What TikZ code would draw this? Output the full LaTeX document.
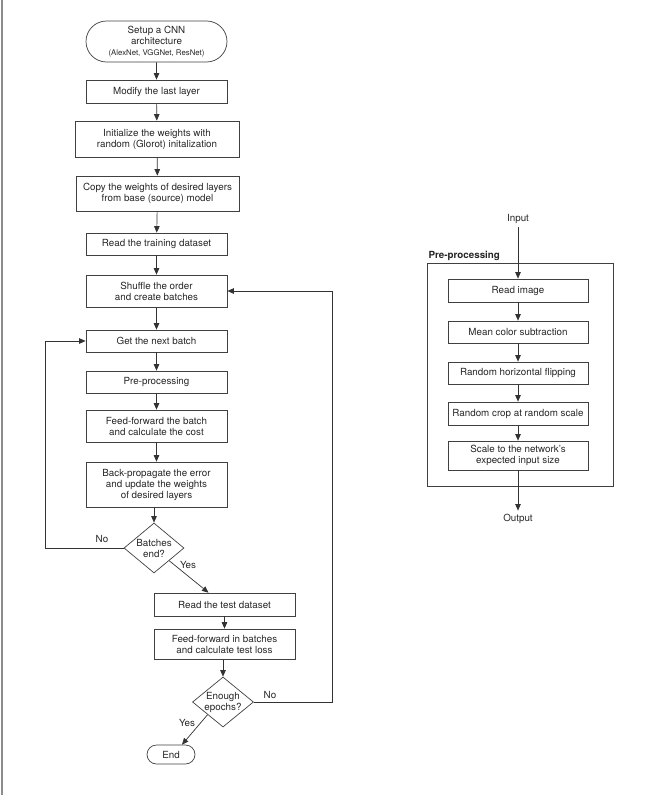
\documentclass[tikz,border=0pt]{standalone}
\usepackage{fontspec}
\setmainfont{TeX Gyre Heros}
\usetikzlibrary{shapes.geometric,shapes.misc,arrows.meta}

\begin{document}
\begin{tikzpicture}[x=1pt, y=-1pt, line width=0.7pt,
  every node/.style={font=\fontsize{9.8}{11}\selectfont, text=black!85},
  procbox/.style={draw=black!75, rectangle, align=center, minimum width=141pt, inner sep=0pt},
  termbox/.style={draw=black!75, rounded rectangle, align=center, inner sep=0pt},
  decbox/.style={draw=black!75, diamond, minimum width=60pt, minimum height=50pt, inner sep=0pt},
  arr/.style={draw=black!80, -{Triangle[length=6.5pt,width=5.5pt]}}]
  \useasboundingbox (0,0) rectangle (652,795);
  \draw[black!45, line width=1.5pt] (2,0) -- (2,795);

  \node[termbox, minimum width=141pt, minimum height=41pt] (setup) at (156.5,41.5)
    {Setup a CNN\\architecture\\{\fontsize{7.8}{9}\selectfont (AlexNet, VGGNet, ResNet)}};
  \node[procbox, minimum height=23pt] (modify) at (156.5,91.5) {Modify the last layer};
  \node[procbox, minimum width=164pt, minimum height=36pt] (init) at (157,139)
    {Initialize the weights with\\random (Glorot) initalization};
  \node[procbox, minimum width=163pt, minimum height=35pt] (copy) at (157.5,193.5)
    {Copy the weights of desired layers\\from base (source) model};
  \node[procbox, minimum height=22pt] (train) at (156.5,244) {Read the training dataset};
  \node[procbox, minimum height=32pt] (shuffle) at (156.5,291) {Shuffle the order\\and create batches};
  \node[procbox, minimum height=22pt] (nextb) at (156.5,341) {Get the next batch};
  \node[procbox, minimum height=22pt] (prep) at (156.5,382) {Pre-processing};
  \node[procbox, minimum height=32pt] (ffwd) at (156.5,426)
    {Feed-forward the batch\\and calculate the cost};
  \node[procbox, minimum height=45pt] (bprop) at (156.5,484.5)
    {Back-propagate the error\\and update the weights\\of desired layers};
  \node[decbox, label={[align=center]center:Batches\\end?}] (bend) at (154,548) {};
  \node[procbox, minimum height=23pt] (test) at (224.5,604.5) {Read the test dataset};
  \node[procbox, minimum height=30pt] (ftest) at (224.5,644)
    {Feed-forward in batches\\and calculate test loss};
  \node[decbox, minimum width=61pt, label={[align=center]center:Enough\\epochs?}] (eend) at (223,702) {};
  \node[termbox, minimum width=48pt, minimum height=19pt] (stop) at (171,754.5) {End};

  \node (no1) at (102,539) {No};
  \node (yes1) at (188,565) {Yes};
  \node (no2) at (270,695) {No};
  \node (yes2) at (187,723) {Yes};
  \coordinate (backL) at (45,341);
  \coordinate (backR) at (332,291);

  \draw[arr] (setup) -- (modify);
  \draw[arr] (modify) -- (init);
  \draw[arr] (init) -- (copy);
  \draw[arr] (copy) -- (train);
  \draw[arr] (train) -- (shuffle);
  \draw[arr] (shuffle) -- (nextb);
  \draw[arr] (nextb) -- (prep);
  \draw[arr] (prep) -- (ffwd);
  \draw[arr] (ffwd) -- (bprop);
  \draw[arr] (bprop.south -| bend.north) -- (bend.north);
  \draw[arr] (bend.west) -| (backL) -- (nextb.west);
  \draw[arr] (bend.south east) -- ([xshift=-16pt]test.north);
  \draw[arr] (test.south -| ftest.north) -- (ftest);
  \draw[arr] (ftest.south -| eend.north) -- (eend.north);
  \draw[arr] (eend.east) -| (backR) -- (shuffle.east);
  \draw[arr] (eend.south west) -- ([xshift=11pt]stop.north);

  \node (inp) at (518,219) {Input};
  \node[draw=black!75, minimum width=186pt, minimum height=223pt, inner sep=0pt] (frame) at (520,374.5) {};
  \node[font=\fontsize{9.8}{11}\selectfont\bfseries, anchor=south west, inner sep=1.5pt] (framelbl)
    at (frame.north west) {Pre-processing};
  \node[procbox, minimum width=140pt, minimum height=23pt] (readimg) at (518,290.5) {Read image};
  \node[procbox, minimum width=140pt, minimum height=22pt] (meancol) at (518,332) {Mean color subtraction};
  \node[procbox, minimum width=140pt, minimum height=22pt] (flip) at (518,373) {Random horizontal flipping};
  \node[procbox, minimum width=140pt, minimum height=23pt] (crop) at (518,413.5) {Random crop at random scale};
  \node[procbox, minimum width=140pt, minimum height=29pt] (rescale) at (518,455.5)
    {Scale to the network's\\expected input size};
  \node (outp) at (518,519) {Output};

  \draw[arr] (inp) -- (readimg);
  \draw[arr] (readimg) -- (meancol);
  \draw[arr] (meancol) -- (flip);
  \draw[arr] (flip) -- (crop);
  \draw[arr] (crop) -- (rescale);
  \draw[arr] (rescale) -- (outp);
\end{tikzpicture}
\end{document}
